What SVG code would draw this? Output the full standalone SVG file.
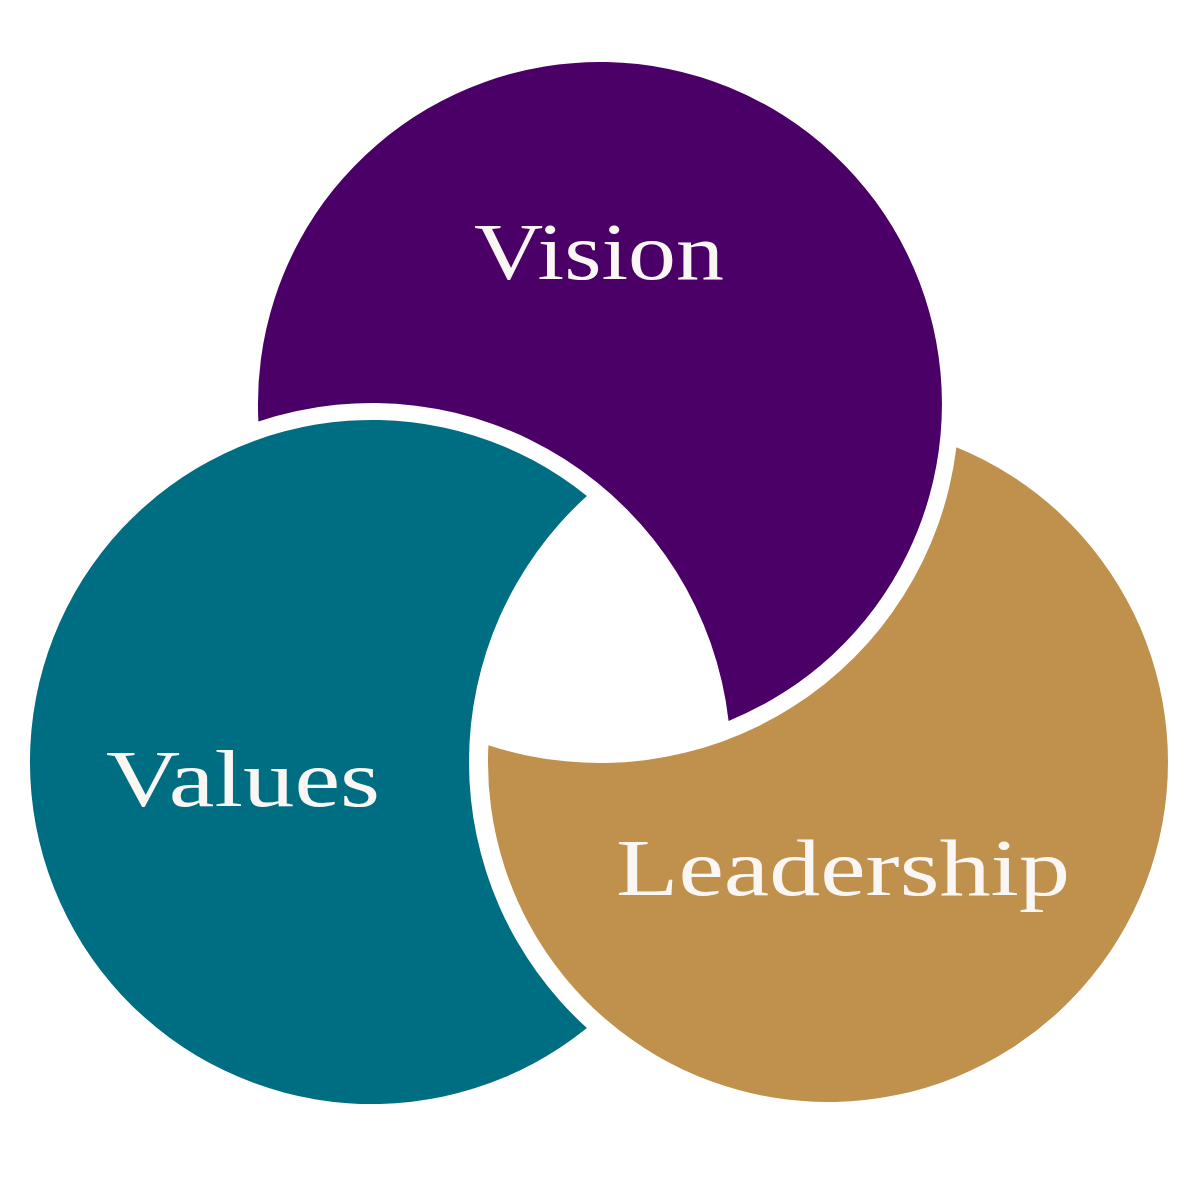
<svg xmlns="http://www.w3.org/2000/svg" width="1200" height="1200" viewBox="0 0 1200 1200">
<style>
.lbl{font-family:"Liberation Serif","DejaVu Serif",serif;font-size:80px;fill:#FAF6F4}
</style>
<rect width="1200" height="1200" fill="#FFFFFF"/>
<g id="vision">
<path d="M258.4,421.5 A342,342 0 1 1 728.6,720.9 A359,359 0 0 0 258.4,421.5 Z" fill="#4A0066"/>
<text class="lbl" x="474" y="279" textLength="250" lengthAdjust="spacingAndGlyphs">Vision</text>
</g>
<g id="values">
<path d="M586.9,496 A342,342 0 1 0 586.9,1028 A359,359 0 0 1 586.9,496 Z" fill="#006E82"/>
<text class="lbl" x="106" y="806" textLength="274" lengthAdjust="spacingAndGlyphs">Values</text>
</g>
<g id="leadership">
<path d="M956.4,447.2 A340,340 0 1 1 488.4,745.2 A359,359 0 0 0 956.4,447.2 Z" fill="#C0904D"/>
<text class="lbl" x="616" y="895" textLength="454" lengthAdjust="spacingAndGlyphs">Leadership</text>
</g>
<g id="connectors"></g>
</svg>
